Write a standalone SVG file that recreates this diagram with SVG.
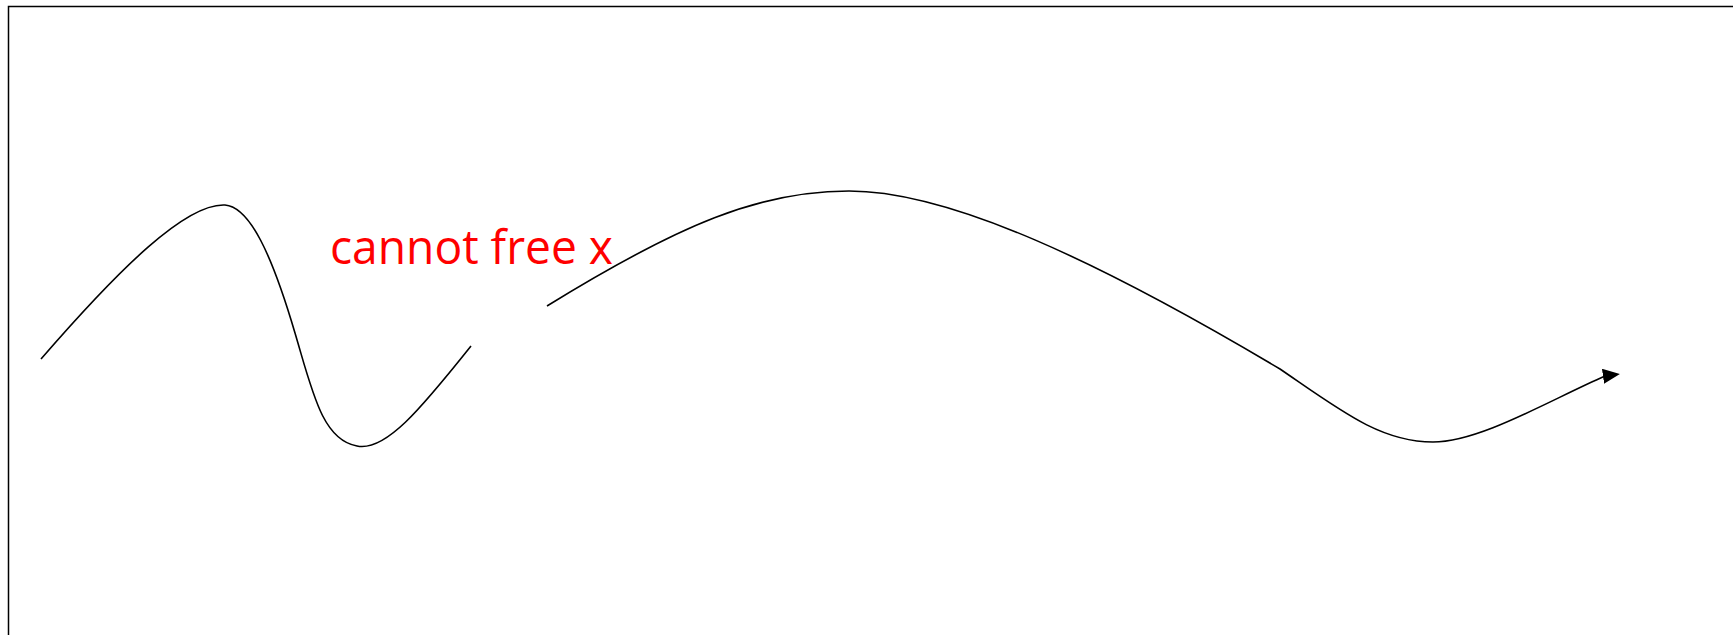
<svg xmlns="http://www.w3.org/2000/svg" width="1733" height="635" viewBox="0 0 1733 635">
<style>
.frame{fill:none;stroke:#000;stroke-width:1.5}
.curve{fill:none;stroke:#000;stroke-width:1.6}
.label{font-family:"Open Sans","Noto Sans",sans-serif;font-size:47px;fill:#FF0000}
</style>
<defs>
<marker id="arrow" markerWidth="17" markerHeight="15" refX="2" refY="7.5" orient="-8" markerUnits="userSpaceOnUse" viewBox="0 0 17 15">
<path d="M0,0 L17,7.5 L0,15 z" fill="#000"/>
</marker>
</defs>
<rect class="frame" x="8.5" y="6.5" width="1740" height="650"/>
<g id="connectors">
<path class="curve" d="M41,359 C120,268 186,203 225,205 C250,207 272,255 295,333 C312,390 322,440 357,446 C385,452 420,410 471,346"/>
<path class="curve" d="M547,306 C680,224 760,191 849,191 C950,191 1100,262 1280,369 C1340,410 1380,442 1433,442 C1480,442 1550,400 1605,376" marker-end="url(#arrow)"/>
</g>
<g id="label">
<text class="label" x="330" y="264" textLength="283" lengthAdjust="spacingAndGlyphs">cannot free x</text>
</g>
</svg>
